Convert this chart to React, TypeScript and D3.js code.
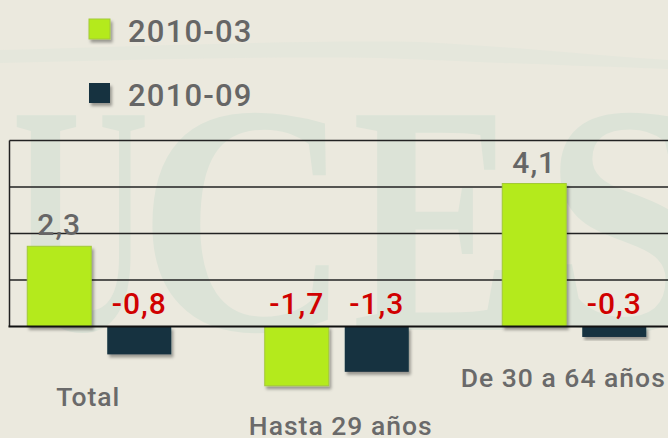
import React from "react";
import * as d3 from "d3";

const categories = ["Total", "Hasta 29 años", "De 30 a 64 años"];
const seriesNames = ["2010-03", "2010-09"];
const values2010_03 = [2.3, -1.7, 4.1];
const values2010_09 = [-0.8, -1.3, -0.3];
const gridTicks = [0, 4 / 3, 8 / 3, 4, 16 / 3];

const W = 668;
const H = 438;
const colors = ["#b4ea1a", "#15303f"];
const FONT = "Roboto, 'DejaVu Sans', sans-serif";
// layout of staggered category labels
const labelLayout = [
  { dx: -11, y: 406 },
  { dx: 4, y: 435 },
  { dx: -11, y: 387 },
];
// decorative watermark letters
const watermark = [
  { ch: "U", x: 12, sx: 0.58 },
  { ch: "C", x: 138, sx: 0.9 },
  { ch: "E", x: 352, sx: 0.76 },
  { ch: "S", x: 543, sx: 0.92 },
];

export default function App() {
  const y = d3.scaleLinear().domain([0, 16 / 3]).range([326.5, 140.5]);
  const x = d3.scaleBand<string>().domain(categories).range([-19.5, 693]).padding(0);
  const inner = d3.scaleBand<string>().domain(seriesNames).range([0, 144]).paddingInner(0.2).paddingOuter(0);
  const groupOffset = (x.bandwidth() - 144) / 2;
  const fmt = (v: number) => d3.format(".1f")(v).replace(".", ",").replace("−", "-");
  const series = [values2010_03, values2010_09];

  return (
    <svg width={W} height={H} style={{ position: "absolute", left: 0, top: 0, display: "block" }}>
      <defs>
        <filter id="sh" x="-20%" y="-20%" width="150%" height="150%">
          <feDropShadow dx="2" dy="3" stdDeviation="1.8" floodColor="#000" floodOpacity="0.35" />
        </filter>
      </defs>
      <rect width={W} height={H} fill="#ebe9de" />
      {/* watermark swoosh */}
      <path d="M0,50 C150,46 300,40 420,42 C520,47 600,56 668,60 L668,69 C580,66 480,62 380,58 C260,56 120,60 0,63 Z" fill="#e5e7dc" />
      {watermark.map((w) => (
        <text
          key={w.ch}
          transform={`translate(${w.x},330) scale(${w.sx},1)`}
          fontFamily="'Liberation Serif', 'DejaVu Serif', serif"
          fontWeight={700}
          fontSize={328}
          fill="#dce3d7"
        >
          {w.ch}
        </text>
      ))}

      {/* gridlines */}
      {gridTicks.slice(1).map((t, i) => (
        <line key={i} x1={9.5} x2={W} y1={y(t)} y2={y(t)} stroke="#222" strokeWidth={1.5} />
      ))}
      <line x1={9.5} x2={9.5} y1={y(gridTicks[gridTicks.length - 1])} y2={y(0)} stroke="#222" strokeWidth={1.5} />

      {/* bars */}
      {categories.map((c, ci) =>
        seriesNames.map((s, si) => {
          const v = series[si][ci];
          const bx = (x(c) as number) + groupOffset + (inner(s) as number);
          const y0 = y(Math.max(0, v));
          const h = Math.abs(y(v) - y(0));
          return (
            <rect
              key={c + s}
              x={bx}
              y={y0}
              width={inner.bandwidth()}
              height={h}
              fill={colors[si]}
              stroke={si === 0 ? "#a3c93a" : "none"}
              strokeWidth={1}
              filter="url(#sh)"
            />
          );
        })
      )}
      <line x1={8.5} x2={W} y1={y(0)} y2={y(0)} stroke="#111" strokeWidth={2} />

      {/* value labels */}
      {categories.map((c, ci) =>
        seriesNames.map((s, si) => {
          const v = series[si][ci];
          const cx = (x(c) as number) + groupOffset + (inner(s) as number) + inner.bandwidth() / 2;
          const ly = v >= 0 ? y(v) - 11 : y(0) - 13;
          return (
            <text
              key={"l" + c + s}
              x={cx}
              y={ly}
              textAnchor="middle"
              fontFamily={FONT}
              fontSize={30}
              letterSpacing={1}
              fontWeight={500}
              fill={v >= 0 ? "#666666" : "#d00000"}
            >
              {fmt(v)}
            </text>
          );
        })
      )}

      {/* category labels */}
      {categories.map((c, ci) => (
        <text
          key={"c" + c}
          x={(x(c) as number) + x.bandwidth() / 2 + labelLayout[ci].dx}
          y={labelLayout[ci].y}
          textAnchor="middle"
          fontFamily={FONT}
          fontSize={26.5}
          fontWeight={500}
          letterSpacing={1}
          fill="#6a6a6a"
        >
          {c}
        </text>
      ))}

      {/* legend */}
      {seriesNames.map((s, si) => (
        <g key={"lg" + s} transform={`translate(89, ${19 + si * 64})`}>
          <rect width={21} height={20} fill={colors[si]} stroke={si === 0 ? "#a3c93a" : "none"} filter="url(#sh)" />
          <text x={39} y={22.5} fontFamily={FONT} fontSize={31} fontWeight={500} letterSpacing={1.2} fill="#666666">
            {s}
          </text>
        </g>
      ))}
    </svg>
  );
}
